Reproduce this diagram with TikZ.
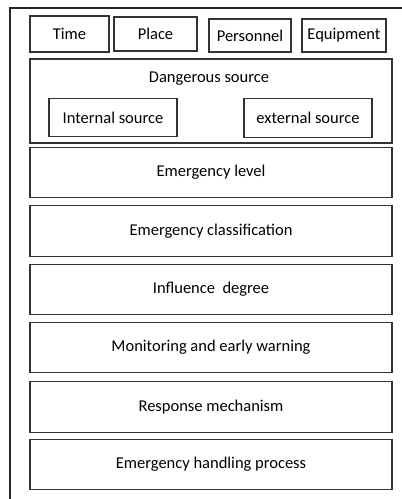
\documentclass[tikz,border=0pt]{standalone}
\usepackage{fontspec}
\setmainfont{Carlito}
\begin{document}
\begin{tikzpicture}[x=1pt,y=-1pt,
  bx/.style={draw=black!80,line width=1.3pt,fill=white,inner sep=0pt,
    font=\fontsize{16.5}{19}\selectfont,text=black},
  frameline/.style={draw=black!85,line width=2pt}]
\useasboundingbox (0,0) rectangle (402,499);
\draw[frameline] (403,8) -- (10,8) -- (10,500);
% top row
\node[bx,minimum width=79pt,minimum height=36pt] (time) at (69.5,34) {Time};
\node[bx,minimum width=83pt,minimum height=34pt] (place) at (155.5,34) {Place};
\node[bx,minimum width=82pt,minimum height=33pt] (pers) at (250,35.5) {Personnel};
\node[bx,minimum width=84pt,minimum height=33pt] (equip) at (344,35.5) {Equipment};
% dangerous source
\node[bx,minimum width=362pt,minimum height=84pt] (danger) at (211,101) {};
\node[bx,draw=none,fill=none] (dangert) at (209,79) {Dangerous source};
\node[bx,minimum width=128pt,minimum height=38pt] (internal) at (113,117.5) {Internal source};
\node[bx,minimum width=128pt,minimum height=39pt] (external) at (308,118) {external source};
% stacked boxes
\node[bx,minimum width=362pt,minimum height=50pt] (level) at (211,172.5) {Emergency level};
\node[bx,minimum width=362pt,minimum height=51pt] (class) at (211,231) {Emergency classification};
\node[bx,minimum width=362pt,minimum height=50pt] (infl) at (211,289.5) {Influence\ \ degree};
\node[bx,minimum width=362pt,minimum height=50pt] (monit) at (211,347.5) {Monitoring and early warning};
\node[bx,minimum width=362pt,minimum height=51pt] (resp) at (211,407) {Response mechanism};
\node[bx,minimum width=362pt,minimum height=50pt] (handl) at (211,464.5) {Emergency handling process};
\end{tikzpicture}
\end{document}
